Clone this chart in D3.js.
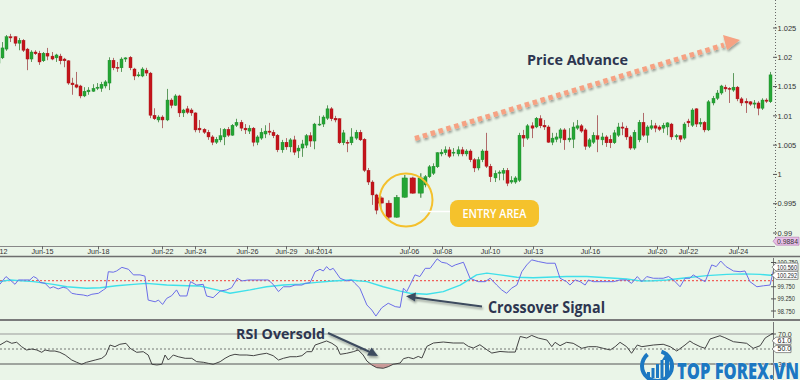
<!DOCTYPE html>
<html><head><meta charset="utf-8">
<script src="https://cdn.jsdelivr.net/npm/d3@7"></script>
<style>html,body{margin:0;padding:0;background:#eaf5e8}svg{display:block}</style>
</head><body>
<svg id="c" width="800" height="380"></svg>
<script>
// ---------------- DATA ----------------
// candle slots (k = -1 is the partially visible first bar)
const candleIdx = d3.range(-1, 183);
const openP = [1.0190,1.0199,1.0214,1.0235,1.0235,1.0224,1.0229,1.0214,1.0197,1.0209,1.0207,1.0194,1.0207,1.0202,1.0199,1.0202,1.0197,1.0194,1.0156,1.0153,1.0151,1.0134,1.0141,1.0142,1.0147,1.0147,1.0151,1.0156,1.0195,1.0183,1.0182,1.0197,1.0200,1.0180,1.0169,1.0168,1.0178,1.0173,1.0101,1.0093,1.0098,1.0093,1.0127,1.0118,1.0134,1.0105,1.0112,1.0110,1.0105,1.0079,1.0077,1.0072,1.0064,1.0055,1.0059,1.0064,1.0077,1.0067,1.0084,1.0089,1.0079,1.0074,1.0079,1.0055,1.0062,1.0069,1.0074,1.0072,1.0067,1.0042,1.0055,1.0047,1.0059,1.0040,1.0045,1.0050,1.0066,1.0057,1.0085,1.0086,1.0096,1.0112,1.0096,1.0095,1.0054,1.0055,1.0054,1.0062,1.0072,1.0060,1.0007,0.9987,0.9965,0.9960,0.9951,0.9927,0.9961,0.9994,0.9968,0.9982,0.9996,1.0002,1.0013,1.0035,1.0037,1.0042,1.0037,1.0035,1.0042,1.0035,1.0040,1.0025,1.0011,1.0025,1.0040,1.0014,0.9994,1.0002,1.0002,1.0007,0.9987,0.9987,0.9990,1.0067,1.0062,1.0083,1.0081,1.0095,1.0084,1.0081,1.0055,1.0060,1.0062,1.0076,1.0059,1.0060,1.0079,1.0083,1.0076,1.0048,1.0055,1.0066,1.0059,1.0064,1.0060,1.0054,1.0067,1.0081,1.0079,1.0064,1.0045,1.0059,1.0089,1.0067,1.0079,1.0083,1.0081,1.0079,1.0081,1.0086,1.0064,1.0066,1.0062,1.0091,1.0084,1.0112,1.0086,1.0089,1.0076,1.0122,1.0130,1.0139,1.0149,1.0147,1.0144,1.0149,1.0129,1.0125,1.0124,1.0120,1.0122,1.0113,1.0127,1.0124];
const highP = [1.0202,1.0226,1.0238,1.0240,1.0236,1.0233,1.0231,1.0216,1.0212,1.0212,1.0211,1.0209,1.0216,1.0209,1.0206,1.0206,1.0199,1.0195,1.0165,1.0175,1.0153,1.0149,1.0149,1.0154,1.0156,1.0158,1.0161,1.0200,1.0199,1.0192,1.0200,1.0200,1.0202,1.0182,1.0175,1.0183,1.0182,1.0175,1.0113,1.0101,1.0101,1.0146,1.0130,1.0137,1.0136,1.0112,1.0117,1.0113,1.0106,1.0093,1.0079,1.0076,1.0067,1.0064,1.0079,1.0079,1.0081,1.0086,1.0095,1.0093,1.0086,1.0084,1.0081,1.0067,1.0079,1.0084,1.0088,1.0076,1.0069,1.0059,1.0062,1.0062,1.0066,1.0050,1.0059,1.0069,1.0072,1.0088,1.0100,1.0101,1.0118,1.0115,1.0100,1.0096,1.0076,1.0059,1.0079,1.0076,1.0076,1.0062,1.0011,0.9990,0.9967,0.9963,0.9956,0.9965,0.9999,0.9996,1.0002,0.9999,1.0016,1.0019,1.0038,1.0043,1.0048,1.0047,1.0045,1.0048,1.0047,1.0043,1.0043,1.0028,1.0030,1.0043,1.0071,1.0018,1.0007,1.0007,1.0011,1.0011,0.9997,0.9997,1.0071,1.0076,1.0086,1.0089,1.0098,1.0101,1.0093,1.0084,1.0071,1.0071,1.0079,1.0079,1.0079,1.0089,1.0093,1.0086,1.0079,1.0062,1.0072,1.0101,1.0071,1.0067,1.0067,1.0076,1.0088,1.0089,1.0083,1.0067,1.0076,1.0093,1.0105,1.0084,1.0093,1.0088,1.0084,1.0088,1.0089,1.0088,1.0069,1.0067,1.0089,1.0095,1.0113,1.0113,1.0096,1.0091,1.0127,1.0134,1.0144,1.0153,1.0153,1.0149,1.0173,1.0151,1.0132,1.0130,1.0125,1.0127,1.0125,1.0130,1.0130,1.0175];
const lowP = [1.0187,1.0197,1.0211,1.0226,1.0219,1.0212,1.0209,1.0178,1.0192,1.0204,1.0187,1.0192,1.0195,1.0195,1.0192,1.0188,1.0183,1.0153,1.0136,1.0147,1.0130,1.0132,1.0136,1.0141,1.0144,1.0141,1.0147,1.0144,1.0178,1.0175,1.0175,1.0192,1.0178,1.0161,1.0166,1.0166,1.0168,1.0096,1.0093,1.0089,1.0079,1.0091,1.0113,1.0117,1.0098,1.0098,1.0103,1.0100,1.0072,1.0071,1.0069,1.0059,1.0050,1.0052,1.0055,1.0050,1.0064,1.0066,1.0081,1.0074,1.0069,1.0069,1.0048,1.0050,1.0059,1.0062,1.0067,1.0062,1.0038,1.0037,1.0042,1.0038,1.0033,1.0028,1.0030,1.0045,1.0047,1.0043,1.0083,1.0081,1.0093,1.0091,1.0089,1.0052,1.0050,1.0038,1.0050,1.0059,1.0057,1.0004,0.9982,0.9948,0.9932,0.9943,0.9924,0.9926,0.9960,0.9967,0.9960,0.9978,0.9994,0.9999,1.0011,1.0031,1.0033,1.0028,1.0031,1.0031,1.0031,1.0031,1.0021,1.0004,1.0007,1.0021,1.0011,0.9987,0.9987,0.9990,0.9990,0.9980,0.9984,0.9984,0.9987,1.0047,1.0059,1.0062,1.0079,1.0079,1.0076,1.0054,1.0050,1.0055,1.0054,1.0042,1.0055,1.0045,1.0076,1.0071,1.0042,1.0045,1.0052,1.0038,1.0050,1.0047,1.0045,1.0052,1.0064,1.0067,1.0059,1.0042,1.0042,1.0055,1.0064,1.0054,1.0076,1.0072,1.0074,1.0071,1.0067,1.0059,1.0059,1.0055,1.0059,1.0081,1.0081,1.0081,1.0081,1.0072,1.0074,1.0118,1.0127,1.0136,1.0141,1.0122,1.0141,1.0125,1.0117,1.0105,1.0117,1.0113,1.0101,1.0110,1.0122,1.0122];
const closeP = [1.0199,1.0216,1.0235,1.0233,1.0224,1.0229,1.0212,1.0197,1.0209,1.0206,1.0192,1.0207,1.0202,1.0197,1.0204,1.0194,1.0194,1.0156,1.0153,1.0149,1.0134,1.0142,1.0144,1.0147,1.0149,1.0154,1.0158,1.0195,1.0182,1.0182,1.0197,1.0199,1.0182,1.0168,1.0170,1.0180,1.0173,1.0101,1.0095,1.0098,1.0093,1.0127,1.0118,1.0134,1.0105,1.0110,1.0106,1.0105,1.0076,1.0076,1.0072,1.0064,1.0055,1.0060,1.0066,1.0077,1.0067,1.0084,1.0089,1.0079,1.0076,1.0079,1.0055,1.0064,1.0072,1.0074,1.0072,1.0066,1.0042,1.0055,1.0047,1.0059,1.0038,1.0045,1.0052,1.0066,1.0057,1.0086,1.0086,1.0098,1.0112,1.0095,1.0093,1.0054,1.0071,1.0054,1.0064,1.0072,1.0059,1.0007,0.9987,0.9965,0.9939,0.9951,0.9927,0.9961,0.9994,0.9968,0.9994,0.9996,1.0013,1.0014,1.0037,1.0038,1.0042,1.0031,1.0038,1.0042,1.0035,1.0040,1.0025,1.0011,1.0025,1.0040,1.0014,0.9996,1.0002,1.0004,1.0007,0.9985,0.9990,0.9994,1.0067,1.0062,1.0083,1.0079,1.0096,1.0083,1.0081,1.0055,1.0062,1.0064,1.0076,1.0059,1.0062,1.0081,1.0083,1.0074,1.0048,1.0059,1.0067,1.0060,1.0064,1.0054,1.0054,1.0071,1.0081,1.0079,1.0064,1.0045,1.0072,1.0089,1.0067,1.0081,1.0083,1.0079,1.0077,1.0084,1.0088,1.0064,1.0066,1.0060,1.0086,1.0088,1.0110,1.0086,1.0089,1.0076,1.0124,1.0130,1.0139,1.0151,1.0146,1.0146,1.0149,1.0129,1.0122,1.0122,1.0120,1.0122,1.0113,1.0127,1.0125,1.0170];

const priceTicks = [0.99,0.995,1,1.005,1.01,1.015,1.02,1.025];
const priceTickLabels = ["0.99","0.995","1","1.005","1.01","1.015","1.02","1.025"];
const priceMarker = {value:0.9886, label:"0.9884"};

// date axis (bar index of each tick)
const dateTickIdx = [-1.6,9.6,23.2,38.8,46.8,59.4,68.9,76.7,98.9,106.9,118.6,129.0,142.9,159.2,166.7,178.9];
const dateTickLabels = ["Jun-12","Jun-15","Jun-18","Jun-22","Jun-24","Jun-26","Jun-29","Jul-2014","Jul-06","Jul-08","Jul-10","Jul-13","Jul-16","Jul-20","Jul-22","Jul-24"];

// momentum oscillator (bar index, value)
const momIdx = [-0.7,0.8,1.8,3.0,3.8,5.0,6.6,7.5,8.3,9.1,10.3,11.5,12.3,13.5,14.7,15.6,16.8,18.0,19.6,20.6,21.7,23.3,24.5,25.1,25.7,26.9,27.7,29.0,30.6,31.8,33.4,34.6,35.4,37.1,37.9,38.9,39.9,41.1,42.3,43.1,44.8,45.7,47.2,48.8,49.6,51.2,52.9,54.5,55.7,57.1,58.2,59.8,61.8,63.4,64.6,65.8,67.1,68.3,69.9,71.1,72.8,73.6,74.8,76.0,77.2,78.0,78.8,79.6,80.4,82.1,83.7,84.9,85.7,86.9,88.6,89.8,90.8,92.2,93.8,95.5,96.7,97.5,98.3,99.1,100.3,101.5,102.8,104.0,105.7,106.8,108.0,109.3,110.1,112.1,113.7,115.7,117.4,118.6,120.2,121.4,122.6,123.8,125.1,126.3,127.5,128.7,130.3,132.4,134.4,135.6,137.2,138.0,139.3,140.5,141.7,142.5,143.7,145.3,147.0,148.6,150.2,151.8,153.0,154.4,155.5,156.7,158.3,159.5,160.7,162.0,163.2,164.8,166.0,167.2,168.0,169.3,170.9,172.5,173.6,174.7,176.0,177.8,179.4,180.6,181.8,183.5,185.1,186.7,187.7];
const momVal = [99.85,100.17,100.03,99.85,100.03,100.03,100.03,100.17,100.10,99.93,99.89,99.69,99.75,99.66,99.73,99.69,99.48,99.44,99.41,99.37,99.44,99.48,99.62,99.69,100.37,100.35,100.40,100.55,100.47,100.24,100.24,100.19,99.20,99.13,99.20,99.02,99.27,99.38,99.62,99.37,99.37,99.96,99.82,99.85,99.37,99.30,99.57,99.62,99.71,100.10,99.99,100.03,100.03,100.03,100.03,99.85,99.55,99.75,99.75,99.82,99.82,99.89,99.92,100.37,100.47,100.40,100.58,100.44,100.51,100.10,99.99,100.03,99.89,99.69,99.00,98.79,98.54,98.88,99.07,98.93,98.90,99.69,99.55,99.82,100.24,100.17,100.51,100.51,100.90,100.76,100.72,100.58,100.65,100.76,100.10,99.96,99.96,100.10,99.82,99.62,99.48,99.69,99.82,100.37,100.65,100.86,100.79,100.72,100.72,100.10,99.96,99.82,100.03,99.96,99.82,100.03,99.96,99.96,99.96,99.96,100.03,100.03,99.89,100.17,99.96,100.17,100.10,100.10,100.10,100.17,100.03,99.75,100.10,100.10,100.24,100.10,99.96,100.65,100.58,100.81,100.58,100.40,100.37,100.40,99.96,99.75,99.79,99.82,100.56];
// its moving average (bar index, value)
const maIdx = [-0.7,1.8,7.5,12.3,15.6,20.4,23.7,27.7,31.8,35.0,39.9,44.8,48.0,52.1,55.3,60.2,64.2,68.3,72.3,76.4,80.4,84.5,88.6,92.6,96.7,99.1,103.2,107.2,111.3,115.3,117.8,121.0,125.1,129.1,137.2,142.1,147.0,151.8,155.1,158.3,161.6,166.4,171.3,176.2,180.2,184.3,187.7];
const maVal = [99.96,100.03,99.96,99.85,99.75,99.69,99.71,99.79,99.85,99.89,99.82,99.79,99.78,99.62,99.48,99.62,99.75,99.82,99.86,99.93,99.99,100.03,99.96,99.75,99.57,99.48,99.44,99.55,99.82,100.24,100.31,100.24,100.14,100.12,100.17,100.17,100.12,100.07,99.99,100.00,100.03,100.12,100.21,100.26,100.28,100.26,100.21];
const momTicks = [100.75,100.25,99.75,99.25,98.75];
const momTickLabels = ["100.750","100.250","99.750","99.250","98.750"];
const momLevel = 100;
const momTags = [{value:100.56,label:"100.560"},{value:100.22,label:"100.292"}];

// RSI (bar index, value)
const rsiIdx = [-0.7,1.0,2.2,3.4,4.6,5.8,7.1,8.3,9.5,10.3,11.5,12.7,13.9,15.2,16.8,18.0,19.2,20.4,22.5,24.1,25.1,26.1,27.3,28.5,30.0,31.0,32.6,34.2,35.4,36.3,37.5,38.7,39.5,40.3,41.5,42.7,44.4,46.0,47.2,48.8,50.0,51.2,52.9,54.1,55.3,56.5,57.7,59.4,61.0,62.6,64.2,65.8,67.1,68.3,69.9,71.5,72.8,74.0,75.2,76.0,77.2,78.8,80.1,81.3,82.1,83.7,85.3,86.5,87.7,88.6,89.8,91.0,92.6,93.8,95.0,96.7,97.5,98.7,99.9,101.1,102.0,103.2,104.8,107.2,109.6,112.1,113.3,114.5,116.1,117.8,119.0,121.0,123.0,124.7,125.9,127.5,128.7,130.3,132.4,133.6,134.4,135.6,137.2,138.8,140.9,142.5,144.5,146.1,147.8,149.0,150.2,151.8,153.0,154.4,155.5,158.3,160.7,162.4,164.0,166.0,167.2,168.0,169.7,170.9,172.1,174.5,175.7,177.8,181.0,182.6,184.3,185.5,186.7,187.7];
const rsiVal = [55.3,60.7,57.6,59.0,53.1,48.7,50.0,48.7,45.6,48.7,47.3,47.3,45.6,42.0,35.3,32.3,29.6,32.3,35.3,37.6,42.0,55.3,53.1,56.3,57.6,50.9,45.6,46.4,42.0,29.6,28.7,29.6,42.0,35.3,42.0,39.7,37.6,37.6,33.1,32.3,30.9,29.6,33.1,37.6,41.1,42.9,42.0,42.0,41.1,42.9,44.3,41.1,35.3,37.6,39.7,39.7,41.1,46.4,46.4,55.3,57.6,60.7,57.6,53.1,42.9,44.3,46.4,48.7,42.0,34.0,28.7,25.1,24.3,26.4,29.6,31.3,37.1,38.8,37.1,40.1,38.0,53.5,58.0,59.3,58.0,58.0,53.5,51.3,55.7,49.0,44.6,46.7,45.9,45.9,66.7,64.6,68.1,64.6,62.0,53.1,58.9,54.4,58.9,57.6,50.9,53.1,53.1,50.9,48.7,53.1,58.9,53.1,44.3,55.3,53.1,55.3,56.3,53.1,47.3,55.3,60.7,57.6,53.1,50.9,63.3,67.7,65.1,59.7,57.6,50.9,54.4,64.6,68.7,72.0];
const rsiTicks = [70,30];
const rsiTickLabels = ["70.0","30.0"];
const rsiMid = 50;
const rsiTags = [{value:61,label:"61.0"},{value:50,label:"50.0"}];

// ---------------- DRAW ----------------
const BG = "#eaf5e8";
const FONT = "Liberation Sans, Arial";
const svg = d3.select("#c");
svg.append("rect").attr("width",800).attr("height",380).attr("fill",BG);

const defs = svg.append("defs");
defs.append("clipPath").attr("id","mainClip").append("rect").attr("x",0).attr("y",0).attr("width",774).attr("height",246);
defs.append("clipPath").attr("id","lowClip").append("rect").attr("x",0).attr("y",256).attr("width",773).attr("height",124);
const sh = defs.append("filter").attr("id","shadow").attr("x","-20%").attr("y","-50%").attr("width","140%").attr("height","200%");
sh.append("feGaussianBlur").attr("in","SourceAlpha").attr("stdDeviation",1.2).attr("result","b");
sh.append("feOffset").attr("in","b").attr("dx",1).attr("dy",1.5).attr("result","o");
sh.append("feComponentTransfer").attr("in","o").attr("result","o2").append("feFuncA").attr("type","linear").attr("slope",0.35);
const mg = sh.append("feMerge"); mg.append("feMergeNode").attr("in","o2"); mg.append("feMergeNode").attr("in","SourceGraphic");

const xC = d3.scaleLinear().domain([-1,92,97,182]).range([-1.4,380.7,421,770.7]);
const xI = d3.scaleLinear().domain([0,187]).range([2.7,771.3]);
const yP = d3.scaleLinear().domain([0.99,1.025]).range([233,28]);
const yM = d3.scaleLinear().domain([98.75,100.75]).range([311,262.5]);
const yR = d3.scaleLinear().domain([30,70]).range([364,334]);

// candles
const candles = candleIdx.map((k,j)=>({k,o:openP[j],h:highP[j],l:lowP[j],c:closeP[j]}));
const gC = svg.append("g").attr("clip-path","url(#mainClip)");
const cg = gC.selectAll("g").data(candles).join("g");
cg.each(function(d){
  const g = d3.select(this);
  const step = xC(d.k+0.5)-xC(d.k-0.5);
  const wide = step>6;
  const bw = wide ? 5.5 : 3;
  const xc = xC(d.k);
  const up = d.c>=d.o;
  const xl = Math.round(xc-bw/2);
  g.append("line").attr("x1",xl+bw/2).attr("x2",xl+bw/2).attr("y1",yP(d.h)).attr("y2",yP(d.l))
    .attr("stroke",up?"#5d9a5d":"#b06a6a").attr("stroke-width",wide?1.4:1);
  const yt = yP(Math.max(d.o,d.c)), yb = yP(Math.min(d.o,d.c));
  g.append("rect").attr("x",xl).attr("width",bw).attr("y",yt).attr("height",Math.max(1,yb-yt))
    .attr("fill",up?"#25a535":"#c4141b").attr("stroke",up?"#1c8a2a":"#a81017").attr("stroke-width",0.4);
});

// right price axis
svg.append("line").attr("x1",775.5).attr("x2",775.5).attr("y1",0).attr("y2",246)
  .attr("stroke","#666").attr("stroke-dasharray","1,2");
const pt = svg.append("g");
priceTicks.forEach((v,i)=>{
  pt.append("line").attr("x1",773).attr("x2",777).attr("y1",yP(v)).attr("y2",yP(v)).attr("stroke","#555");
  pt.append("text").attr("x",777.5).attr("y",yP(v)+2.7).text(priceTickLabels[i])
    .attr("font-family",FONT).attr("font-size",7.5).attr("fill","#333");
});
// price marker tag
const pm = svg.append("g");
const pmy = yP(priceMarker.value);
pm.append("path").attr("d",`M773,${pmy} l3.5,-4 h22.5 v8 h-22.5 z`).attr("fill","#e8bfe8").attr("stroke","#b070b0").attr("stroke-width",0.6);
pm.append("text").attr("x",777).attr("y",pmy+2.5).text(priceMarker.label)
  .attr("font-family",FONT).attr("font-size",7).attr("fill","#333").attr("textLength",21).attr("lengthAdjust","spacingAndGlyphs");

// date axis
svg.append("line").attr("x1",0).attr("x2",775).attr("y1",246.5).attr("y2",246.5).attr("stroke","#888");
const dt = svg.append("g");
dateTickIdx.forEach((v,i)=>{
  const x = Math.round(xI(v))+0.5;
  dt.append("line").attr("x1",x).attr("x2",x).attr("y1",246).attr("y2",249.5).attr("stroke","#666");
  dt.append("text").attr("x",x).attr("y",253.5).attr("text-anchor","middle").text(dateTickLabels[i])
    .attr("font-family",FONT).attr("font-size",7.2).attr("fill","#333");
});
// panel separators
[[256.5,1.6,"#6e6e6e"],[320,2.2,"#7a7a7a"]].forEach(s=>{
  svg.append("line").attr("x1",0).attr("x2",800).attr("y1",s[0]).attr("y2",s[0]).attr("stroke",s[2]).attr("stroke-width",s[1]);
});

// momentum panel
const lowG = svg.append("g").attr("clip-path","url(#lowClip)");
lowG.append("line").attr("x1",0).attr("x2",773).attr("y1",yM(momLevel)).attr("y2",yM(momLevel))
  .attr("stroke","#f0605a").attr("stroke-width",1.2).attr("stroke-dasharray","2,2");
const lineM = d3.line().x(d=>xI(d[0])).y(d=>yM(d[1]));
lowG.append("path").attr("d",lineM(d3.zip(maIdx,maVal))).attr("fill","none").attr("stroke","#3fe0ea").attr("stroke-width",1.4).attr("stroke-linejoin","round");
lowG.append("path").attr("d",lineM(d3.zip(momIdx,momVal))).attr("fill","none").attr("stroke","#6b6de8").attr("stroke-width",1).attr("stroke-linejoin","round");
svg.append("line").attr("x1",773.5).attr("x2",773.5).attr("y1",258).attr("y2",318).attr("stroke","#777");
momTicks.forEach((v,i)=>{
  svg.append("line").attr("x1",771).attr("x2",776).attr("y1",yM(v)).attr("y2",yM(v)).attr("stroke","#555");
  svg.append("text").attr("x",777.5).attr("y",yM(v)+2.5).text(momTickLabels[i])
    .attr("font-family",FONT).attr("font-size",7).attr("fill","#333").attr("textLength",momTickLabels[i].length*2.9).attr("lengthAdjust","spacingAndGlyphs");
});
momTags.forEach(t=>{
  const y=yM(t.value);
  svg.append("path").attr("d",`M772,${y} l4,-4 h22 v8 h-22 z`).attr("fill","#fff").attr("stroke","#666").attr("stroke-width",0.7);
  svg.append("text").attr("x",777).attr("y",y+2.5).text(t.label).attr("font-family",FONT).attr("font-size",7).attr("fill","#222")
    .attr("textLength",20).attr("lengthAdjust","spacingAndGlyphs");
});

// RSI panel
lowG.append("line").attr("x1",0).attr("x2",773).attr("y1",yR(70)).attr("y2",yR(70)).attr("stroke","#999").attr("stroke-width",1);
lowG.append("line").attr("x1",0).attr("x2",773).attr("y1",yR(rsiMid)).attr("y2",yR(rsiMid)).attr("stroke","#555").attr("stroke-width",0.8).attr("stroke-dasharray","2,2");
lowG.append("line").attr("x1",0).attr("x2",773).attr("y1",yR(30)).attr("y2",yR(30)).attr("stroke","#555").attr("stroke-width",1);
const rsiPts = d3.zip(rsiIdx,rsiVal);
// oversold fill
const area = d3.area().x(d=>xI(d[0])).y0(yR(30)).y1(d=>yR(Math.min(30,d[1])));
lowG.append("path").attr("d",area(rsiPts.filter(d=>d[0]>87.5&&d[0]<96))).attr("fill","#c99a98");
lowG.append("path").attr("d",d3.line().x(d=>xI(d[0])).y(d=>yR(d[1]))(rsiPts)).attr("fill","none").attr("stroke","#444").attr("stroke-width",1);
svg.append("line").attr("x1",773.5).attr("x2",773.5).attr("y1",322).attr("y2",380).attr("stroke","#777");
rsiTicks.forEach((v,i)=>{
  svg.append("line").attr("x1",771).attr("x2",776).attr("y1",yR(v)).attr("y2",yR(v)).attr("stroke","#555");
  svg.append("text").attr("x",778).attr("y",yR(v)+2.5).text(rsiTickLabels[i]).attr("font-family",FONT).attr("font-size",7).attr("fill","#333");
});
rsiTags.forEach(t=>{
  const y=yR(t.value);
  svg.append("path").attr("d",`M772,${y} l4,-3.6 h15 v7.2 h-15 z`).attr("fill","#fff").attr("stroke","#666").attr("stroke-width",0.7);
  svg.append("text").attr("x",777.5).attr("y",y+2.4).text(t.label).attr("font-family",FONT).attr("font-size",7).attr("fill","#222");
});

// ---------------- ANNOTATIONS ----------------
const NAVY = "#2d3550";
// price advance dotted arrow
const pa = svg.append("g").attr("filter","url(#shadow)");
pa.append("line").attr("x1",415).attr("y1",138.5).attr("x2",724).attr("y2",45)
  .attr("stroke","#f6a283").attr("stroke-width",5).attr("stroke-dasharray","4.6,3.6");
pa.append("path").attr("d","M740,40 L723,35 L727,50 Z").attr("fill","#f6a283");
svg.append("text").attr("x",527).attr("y",65).text("Price Advance")
  .attr("font-family","Open Sans, Noto Sans").attr("font-weight",700).attr("font-size",15).attr("fill",NAVY)
  .attr("textLength",101).attr("lengthAdjust","spacingAndGlyphs");

// entry circle + label
svg.append("circle").attr("cx",406).attr("cy",200).attr("r",26.5).attr("fill","none").attr("stroke","#f4c02c").attr("stroke-width",2);
svg.append("line").attr("x1",420).attr("x2",452).attr("y1",211.5).attr("y2",211.5).attr("stroke","#fff").attr("stroke-width",1.5);
svg.append("rect").attr("x",450).attr("y",200).attr("width",89).attr("height",27).attr("rx",8).attr("fill","#f5c22c");
svg.append("text").attr("x",494.5).attr("y",218).attr("text-anchor","middle").text("ENTRY AREA")
  .attr("font-family","Open Sans, Noto Sans").attr("font-weight",600).attr("font-size",12).attr("fill","#fff")
  .attr("textLength",64).attr("lengthAdjust","spacingAndGlyphs");

// crossover arrow
const ca = svg.append("g").attr("filter","url(#shadow)");
ca.append("line").attr("x1",482).attr("y1",306.5).attr("x2",414).attr("y2",297.5).attr("stroke","#3d4b5e").attr("stroke-width",2.2);
ca.append("path").attr("d","M406,296.3 L416,292.5 L415,301.5 Z").attr("fill","#3d4b5e");
svg.append("text").attr("x",488).attr("y",313).text("Crossover Signal")
  .attr("font-family","Open Sans, Noto Sans").attr("font-weight",700).attr("font-size",16).attr("fill",NAVY)
  .attr("textLength",117).attr("lengthAdjust","spacingAndGlyphs");

// RSI oversold arrow
const ra = svg.append("g").attr("filter","url(#shadow)");
ra.append("line").attr("x1",328).attr("y1",333).attr("x2",371).attr("y2",352.5).attr("stroke","#3d4b5e").attr("stroke-width",2);
ra.append("path").attr("d","M378,356 L367,355.5 L371.5,347.5 Z").attr("fill","#3d4b5e");
svg.append("text").attr("x",236).attr("y",338.5).text("RSI Oversold")
  .attr("font-family","Open Sans, Noto Sans").attr("font-weight",700).attr("font-size",15).attr("fill",NAVY)
  .attr("textLength",89).attr("lengthAdjust","spacingAndGlyphs");

// ---------------- LOGO ----------------
const lg = svg.append("g");
const BLUE = "#1c78c2";
lg.append("path").attr("d",d3.arc()({innerRadius:13,outerRadius:17,startAngle:0.3,endAngle:5.6})).attr("transform","translate(657,366)").attr("fill",BLUE);
[[647,372,3,6],[651.5,368,3,10],[656,364,3,14],[660.5,360,3,18]].forEach(b=>lg.append("rect").attr("x",b[0]).attr("y",b[1]).attr("width",b[2]).attr("height",b[3]).attr("fill",BLUE));
lg.append("path").attr("d","M665,378 L665,360 L662,360 L667,352 L672,360 L669,360 L669,378 Z").attr("fill",BLUE);
lg.append("text").attr("x",677).attr("y",379).text("TOP FOREX.VN")
  .attr("font-family","Open Sans, Noto Sans").attr("font-weight",800).attr("font-size",22).attr("fill",BLUE)
  .attr("stroke","#fff").attr("stroke-width",0.6).attr("paint-order","stroke")
  .attr("textLength",122).attr("lengthAdjust","spacingAndGlyphs");
</script>
</body></html>
